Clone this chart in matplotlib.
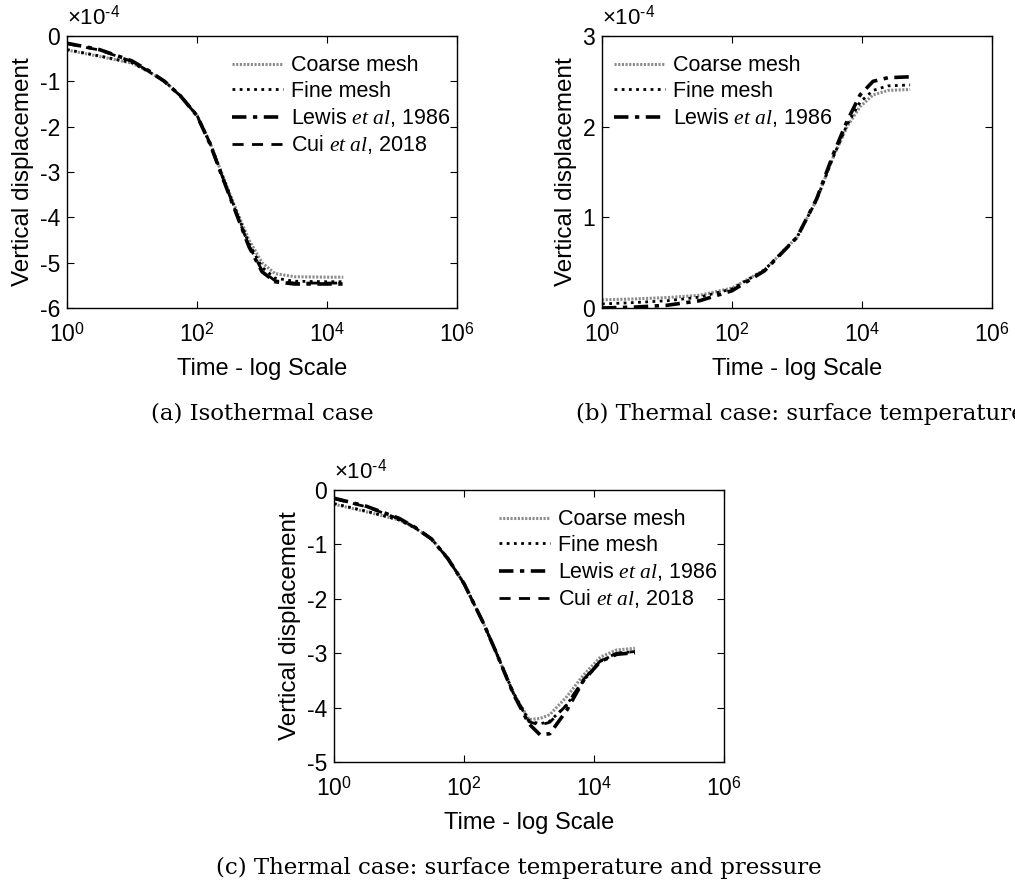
import numpy as np
import matplotlib
matplotlib.use("Agg")
import matplotlib.pyplot as plt

plt.rcParams['font.family'] = ['Liberation Sans', 'DejaVu Sans']
plt.rcParams['mathtext.fontset'] = 'custom'
plt.rcParams['mathtext.rm'] = 'Liberation Sans'
plt.rcParams['mathtext.it'] = 'Liberation Serif:italic'
plt.rcParams['axes.unicode_minus'] = False

# (a) isothermal case, displacement in 1e-4, x as log10(time)
a_logt = [0, 0.5, 1.0, 1.25, 1.5, 1.75, 2.0, 2.2, 2.4, 2.6, 2.8, 3.0, 3.2, 3.5, 4.0, 4.25]
a_coarse = [-0.31, -0.45, -0.60, -0.78, -1.00, -1.32, -1.75, -2.35, -3.10, -3.82, -4.50, -5.00, -5.24, -5.31, -5.32, -5.32]
a_fine = [-0.30, -0.44, -0.59, -0.78, -1.00, -1.32, -1.75, -2.36, -3.12, -3.86, -4.58, -5.10, -5.34, -5.41, -5.42, -5.42]
a_lewis = [-0.16, -0.30, -0.55, -0.76, -1.00, -1.33, -1.76, -2.38, -3.15, -3.90, -4.65, -5.20, -5.42, -5.47, -5.47, -5.47]
a_cui = [-0.17, -0.31, -0.56, -0.77, -1.00, -1.33, -1.76, -2.37, -3.14, -3.89, -4.63, -5.17, -5.40, -5.45, -5.45, -5.45]

# (b) thermal case: surface temperature
b_logt = [0, 0.5, 1.0, 1.5, 2.0, 2.5, 3.0, 3.3, 3.56, 3.77, 3.97, 4.17, 4.4, 4.74]
b_coarse = [0.09, 0.10, 0.115, 0.14, 0.22, 0.42, 0.78, 1.19, 1.67, 2.00, 2.22, 2.35, 2.40, 2.41]
b_fine = [0.045, 0.06, 0.08, 0.12, 0.21, 0.42, 0.78, 1.19, 1.67, 2.02, 2.27, 2.40, 2.45, 2.46]
b_lewis = [0.0, 0.01, 0.03, 0.08, 0.19, 0.41, 0.78, 1.20, 1.70, 2.06, 2.35, 2.50, 2.54, 2.55]

# (c) thermal case: surface temperature and pressure
c_logt = [0, 0.5, 1.0, 1.25, 1.5, 1.75, 2.0, 2.3, 2.5, 2.76, 3.0, 3.17, 3.32, 3.58, 3.84, 4.1, 4.35, 4.63]
c_coarse = [-0.26, -0.40, -0.55, -0.70, -0.90, -1.25, -1.72, -2.45, -3.00, -3.73, -4.22, -4.20, -4.13, -3.80, -3.40, -3.07, -2.94, -2.91]
c_fine = [-0.25, -0.39, -0.55, -0.70, -0.90, -1.25, -1.72, -2.45, -3.00, -3.73, -4.24, -4.30, -4.25, -3.95, -3.50, -3.15, -3.00, -2.97]
c_lewis = [-0.15, -0.30, -0.52, -0.69, -0.90, -1.26, -1.72, -2.45, -3.00, -3.75, -4.30, -4.50, -4.48, -4.05, -3.50, -3.15, -3.02, -2.99]
c_cui = [-0.16, -0.31, -0.53, -0.69, -0.90, -1.26, -1.72, -2.45, -3.00, -3.74, -4.26, -4.32, -4.27, -3.95, -3.48, -3.14, -3.00, -2.97]

labels = ['Coarse mesh', 'Fine mesh', r'Lewis $et\ al$, 1986', r'Cui $et\ al$, 2018']
styles = [
    dict(color='0.55', lw=2.2, ls=(0, (0.7, 0.5))),
    dict(color='black', lw=2.0, ls=(0, (1, 1.6))),
    dict(color='black', lw=2.6, ls=(0, (4, 1.8, 1.2, 1.8))),
    dict(color='black', lw=2.0, ls=(0, (4, 3))),
]

W, H = 1015, 885
fig = plt.figure(figsize=(W / 100, H / 100), dpi=100)


def make_ax(left, top, yticks, ylim):
    ax = fig.add_axes([left / W, 1 - (top + 272) / H, 390 / W, 272 / H])
    ax.set_xscale('log')
    ax.set_xlim(1, 1e6)
    ax.set_xticks([1, 1e2, 1e4, 1e6])
    ax.set_xticklabels([r'$10^{0}$', r'$10^{2}$', r'$10^{4}$', r'$10^{6}$'])
    ax.xaxis.set_minor_locator(matplotlib.ticker.NullLocator())
    ax.set_ylim(*ylim)
    ax.set_yticks(yticks)
    ax.set_yticklabels([str(v) for v in yticks])
    ax.tick_params(direction='in', top=True, right=True, length=5, labelsize=16.5)
    ax.tick_params(axis='x', pad=11)
    ax.tick_params(axis='y', pad=5)
    for s in ax.spines.values():
        s.set_linewidth(1.0)
    ax.set_xlabel('Time - log Scale', fontsize=17, labelpad=8)
    ax.set_ylabel('Vertical displacement', fontsize=17.5, labelpad=4)
    ax.text(0.0, 1.025, r'$\times10^{\text{-}4}$', transform=ax.transAxes, fontsize=16, ha='left', va='bottom')
    return ax


def draw(ax, logt, series, n):
    t = 10 ** np.array(logt)
    for i in range(n):
        ax.plot(t, series[i], label=labels[i], **styles[i])


leg = dict(frameon=False, fontsize=15.5, handlelength=2.4, handletextpad=0.35,
           labelspacing=0.2, borderaxespad=0, loc='upper left')

ax_a = make_ax(67, 36, [-6, -5, -4, -3, -2, -1, 0], (-6, 0))
draw(ax_a, a_logt, [a_coarse, a_fine, a_lewis, a_cui], 4)
ax_a.legend(bbox_to_anchor=(0.40, 0.96), **leg)

ax_b = make_ax(602, 36, [0, 1, 2, 3], (0, 3))
draw(ax_b, b_logt, [b_coarse, b_fine, b_lewis], 3)
ax_b.legend(bbox_to_anchor=(0.008, 0.96), **leg)

ax_c = make_ax(334, 490, [-5, -4, -3, -2, -1, 0], (-5, 0))
draw(ax_c, c_logt, [c_coarse, c_fine, c_lewis, c_cui], 4)
ax_c.legend(bbox_to_anchor=(0.40, 0.96), **leg)

cap = dict(fontsize=16.5, family='DejaVu Serif', ha='center', va='center')
fig.text(262 / W, 1 - 414 / H, '(a) Isothermal case', **cap)
fig.text(800 / W, 1 - 414 / H, '(b) Thermal case: surface temperature', **cap)
fig.text(519 / W, 1 - 868 / H, '(c) Thermal case: surface temperature and pressure', **cap)

fig.savefig('out.png', dpi=100)
